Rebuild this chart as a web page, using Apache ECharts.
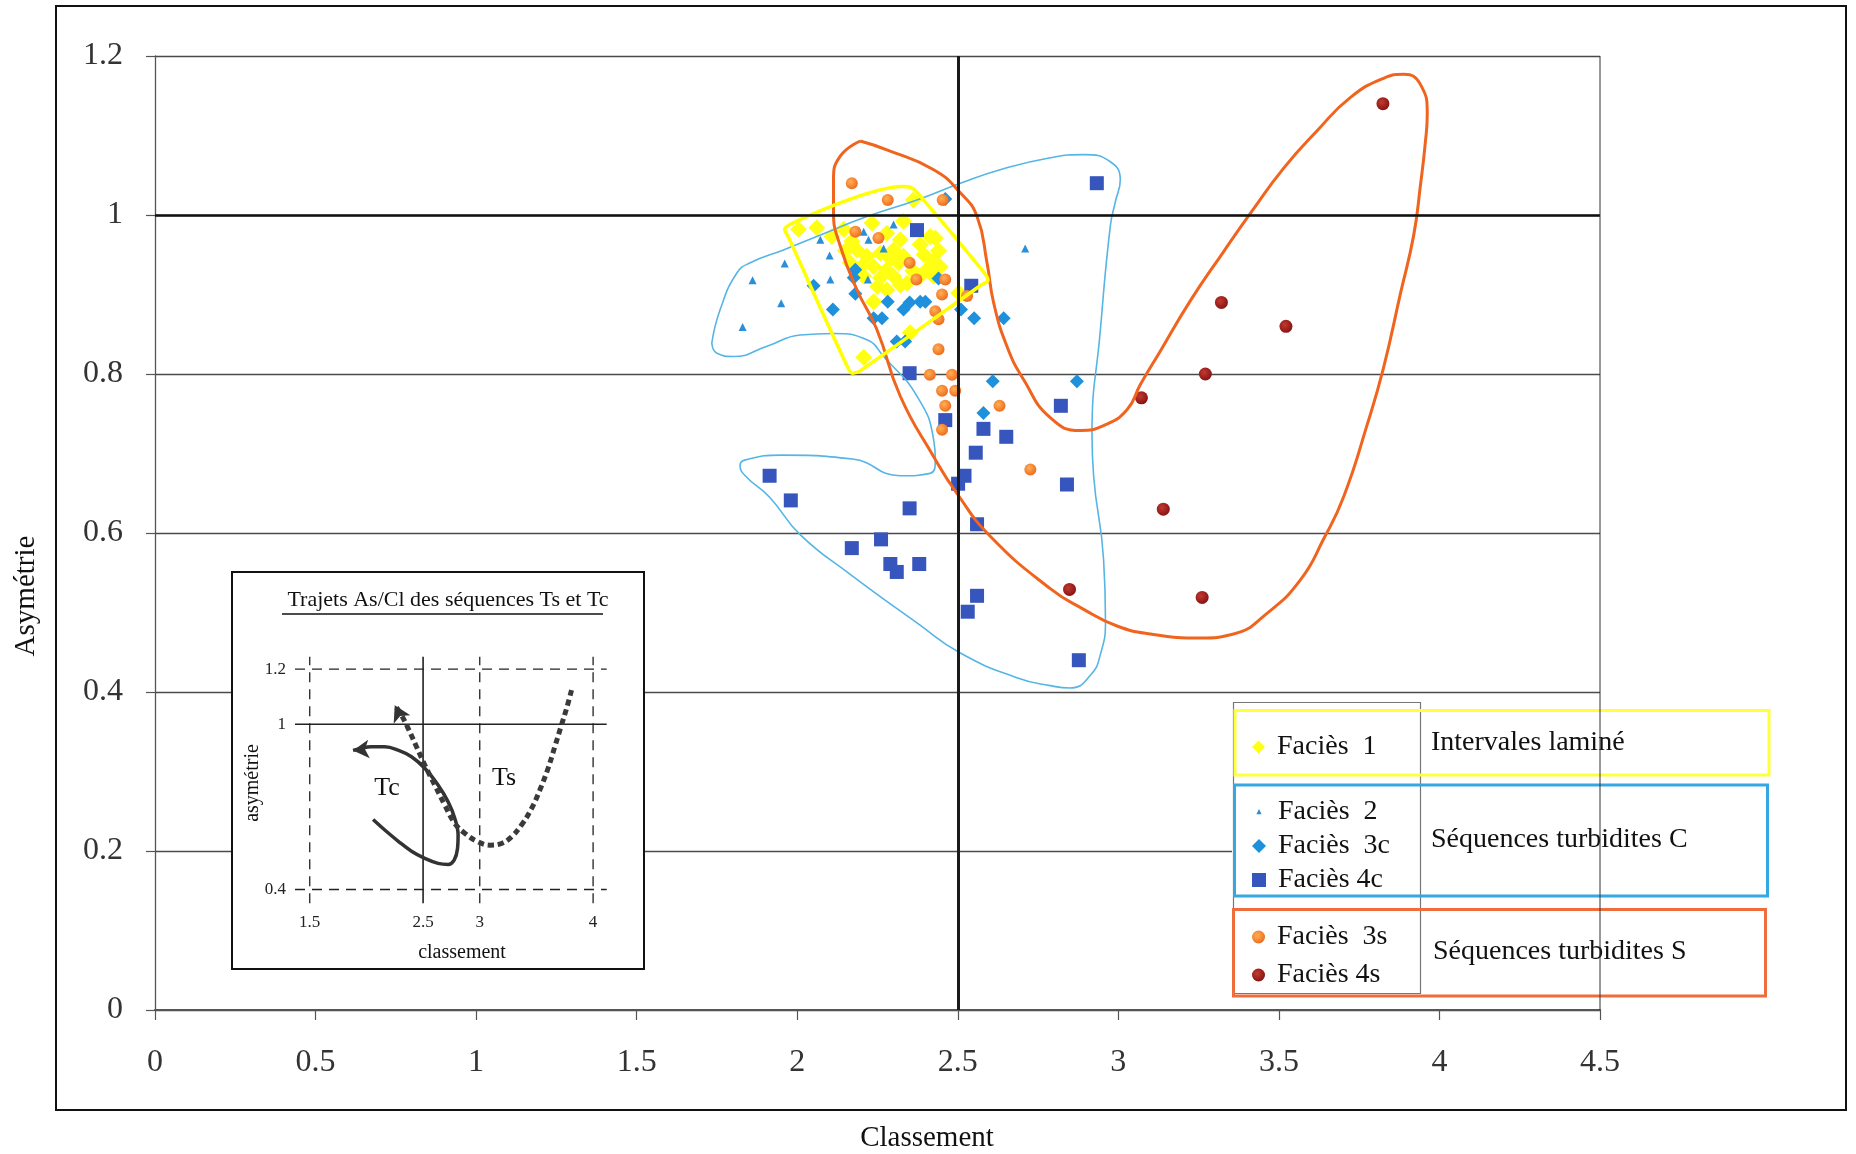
<!DOCTYPE html>
<html><head><meta charset="utf-8">
<script src="https://cdn.jsdelivr.net/npm/echarts@6/dist/echarts.min.js"></script>
<style>html,body{margin:0;padding:0;background:#fff}#chart{width:1856px;height:1154px}</style>
</head><body><div id="chart"></div><script>
// ---------- data (Classement, Asymétrie) ----------
const facies1 = [[2.362,1.019],[2.004,0.982],[2.061,0.984],[2.108,0.973],[2.145,0.982],[2.233,0.990],[2.331,0.992],[2.279,0.977],[2.321,0.969],[2.414,0.973],[2.430,0.971],[2.383,0.963],[2.186,0.956],[2.217,0.948],[2.259,0.952],[2.300,0.956],[2.331,0.948],[2.165,0.940],[2.238,0.935],[2.279,0.931],[2.316,0.940],[2.425,0.942],[2.445,0.935],[2.404,0.931],[2.207,0.923],[2.259,0.921],[2.300,0.923],[2.342,0.914],[2.383,0.923],[2.425,0.923],[2.279,0.906],[2.321,0.912],[2.238,0.891],[2.503,0.902],[2.352,0.852],[2.207,0.821],[2.170,0.967],[2.150,0.955],[2.200,0.935],[2.360,0.930],[2.395,0.950],[2.250,0.910],[2.290,0.945],[2.440,0.955]];
const facies2 = [[2.300,0.988],[2.207,0.979],[2.222,0.969],[2.269,0.958],[2.072,0.969],[2.101,0.949],[1.961,0.939],[1.861,0.918],[2.103,0.919],[2.220,0.919],[1.950,0.889],[1.830,0.859],[2.710,0.958]];
const facies3c = [[2.461,1.020],[2.051,0.911],[2.181,0.931],[2.176,0.921],[2.181,0.901],[2.111,0.881],[2.282,0.891],[2.238,0.870],[2.264,0.870],[2.331,0.881],[2.350,0.890],[2.383,0.891],[2.399,0.891],[2.310,0.841],[2.336,0.841],[2.440,0.920],[2.510,0.881],[2.551,0.870],[2.643,0.870],[2.609,0.791],[2.871,0.791],[2.580,0.751]];
const facies4c = [[2.373,0.981],[2.542,0.911],[2.933,1.040],[2.350,0.801],[2.461,0.742],[2.821,0.760],[2.580,0.731],[2.651,0.721],[2.556,0.701],[2.521,0.672],[2.501,0.662],[2.840,0.661],[2.350,0.631],[2.560,0.611],[2.261,0.592],[2.170,0.581],[2.290,0.561],[2.310,0.551],[2.380,0.561],[2.560,0.521],[2.531,0.501],[2.877,0.440],[1.914,0.672],[1.980,0.641]];
const facies3s = [[2.170,1.040],[2.282,1.019],[2.453,1.019],[2.181,0.979],[2.253,0.971],[2.350,0.940],[2.371,0.919],[2.461,0.919],[2.451,0.900],[2.529,0.898],[2.430,0.879],[2.440,0.869],[2.440,0.831],[2.413,0.799],[2.482,0.799],[2.451,0.779],[2.492,0.779],[2.461,0.760],[2.630,0.760],[2.451,0.730],[2.726,0.680]];
const facies4s = [[3.824,1.140],[3.321,0.890],[3.522,0.860],[3.271,0.800],[3.072,0.770],[3.140,0.630],[2.848,0.529],[3.261,0.519]];

const seriesNames = ['Faciès  1','Faciès  2','Faciès  3c','Faciès 4c','Faciès  3s','Faciès 4s'];
const groupLabels = ['Intervales laminé','Séquences turbidites C','Séquences turbidites S'];
const axisTitles = ['Classement','Asymétrie'];

// hand-drawn envelopes (data coordinates)
const outlineYellow = [[1.981,0.989],[2.328,1.036],[2.352,1.035],[2.372,1.029],[2.579,0.929],[2.594,0.918],[2.573,0.912],[2.196,0.804],[2.172,0.801],[2.153,0.812],[1.974,0.971],[1.961,0.982],[1.981,0.989]];
const outlineBlue = [[1.734,0.839],[1.760,0.881],[1.812,0.927],[1.854,0.940],[1.957,0.956],[2.061,0.973],[2.217,0.998],[2.373,1.019],[2.508,1.040],[2.632,1.057],[2.788,1.072],[2.892,1.076],[2.975,1.067],[3.006,1.044],[2.991,1.017],[2.975,0.986],[2.944,0.855],[2.918,0.724],[2.923,0.672],[2.954,0.567],[2.960,0.489],[2.944,0.447],[2.913,0.421],[2.850,0.405],[2.788,0.408],[2.684,0.418],[2.508,0.449],[2.373,0.487],[2.165,0.548],[2.009,0.598],[1.914,0.645],[1.838,0.672],[1.822,0.685],[1.838,0.692],[1.951,0.698],[2.172,0.693],[2.321,0.672],[2.414,0.675],[2.430,0.692],[2.425,0.717],[2.373,0.772],[2.269,0.822],[2.217,0.843],[2.113,0.851],[2.009,0.849],[1.906,0.835],[1.802,0.822],[1.750,0.826],[1.734,0.839]];
const outlineOrange = [[2.196,1.093],[2.279,1.082],[2.425,1.057],[2.508,1.028],[2.560,0.998],[2.591,0.940],[2.612,0.889],[2.653,0.835],[2.705,0.793],[2.788,0.745],[2.882,0.729],[2.954,0.735],[3.027,0.755],[3.069,0.787],[3.131,0.829],[3.224,0.892],[3.328,0.954],[3.411,1.002],[3.515,1.059],[3.619,1.106],[3.723,1.148],[3.826,1.172],[3.889,1.177],[3.941,1.164],[3.962,1.127],[3.956,1.091],[3.941,1.038],[3.920,0.975],[3.879,0.902],[3.826,0.808],[3.774,0.735],[3.702,0.646],[3.640,0.593],[3.567,0.541],[3.463,0.499],[3.359,0.473],[3.255,0.468],[3.100,0.473],[2.996,0.483],[2.892,0.504],[2.788,0.530],[2.601,0.596],[2.497,0.650],[2.425,0.696],[2.321,0.772],[2.248,0.856],[2.186,0.906],[2.134,0.961],[2.113,1.003],[2.113,1.044],[2.134,1.074],[2.196,1.093]];

// inset schematic
const insetXRange = [1.37, 4.12];
const insetYRange = [0.35, 1.245];
const insetXTicks = [1.5, 2.5, 3, 4];
const insetYTicks = [0.4, 1, 1.2];
const insetDashedX = [1.5, 3, 4];
const insetSolidX = [2.5];
const insetDashedY = [0.4, 1.2];
const insetSolidY = [1];
const insetTc = [[2.059,0.654],[2.162,0.616],[2.279,0.576],[2.398,0.539],[2.515,0.513],[2.632,0.495],[2.721,0.491],[2.774,0.507],[2.804,0.549],[2.809,0.597],[2.780,0.658],[2.721,0.718],[2.632,0.779],[2.515,0.840],[2.398,0.882],[2.279,0.906],[2.162,0.918],[2.045,0.918],[1.926,0.909],[1.882,0.905]];
const insetTs = [[3.810,1.124],[3.766,1.057],[3.721,0.997],[3.662,0.918],[3.603,0.840],[3.530,0.761],[3.457,0.694],[3.368,0.634],[3.280,0.591],[3.192,0.567],[3.089,0.561],[2.985,0.573],[2.868,0.604],[2.780,0.640],[2.692,0.706],[2.603,0.779],[2.515,0.852],[2.442,0.918],[2.368,0.985],[2.309,1.033],[2.250,1.069]];

// ---------- chart ----------
const FF = "'Liberation Serif', 'Times New Roman', serif";
const chart = echarts.init(document.getElementById('chart'), null, {renderer: 'canvas'});

function radial(c1, c2) {
  return {type: 'radial', x: 0.4, y: 0.38, r: 0.65, colorStops: [{offset: 0, color: c1}, {offset: 1, color: c2}]};
}
const styles = [
  {symbol: 'diamond', size: 17, color: '#ffff14'},
  {symbol: 'triangle', size: 8, color: '#2a8fd6'},
  {symbol: 'diamond', size: 14, color: '#1e90dc'},
  {symbol: 'rect', size: 14, color: '#3655bd'},
  {symbol: 'circle', size: 12, color: radial('#ffb055', '#ee6a1c')},
  {symbol: 'circle', size: 13, color: radial('#c23a30', '#861212')}
];
const datasets = [facies1, facies2, facies3c, facies4c, facies3s, facies4s];

const series = [];
datasets.forEach((d, i) => {
  const s = {
    type: 'scatter', name: seriesNames[i], xAxisIndex: 0, yAxisIndex: 0,
    data: d, symbol: styles[i].symbol, symbolSize: styles[i].size,
    itemStyle: {color: styles[i].color, opacity: 1}, z: 2, silent: true
  };
  if (i === 0) {
    s.markLine = {
      silent: true, symbol: ['none', 'none'], label: {show: false}, animation: false,
      data: [
        {xAxis: 2.5, lineStyle: {color: '#1a1a1a', width: 3, type: 'solid'}},
        {yAxis: 1, lineStyle: {color: '#111', width: 2.5, type: 'solid'}}
      ]
    };
  }
  series.push(s);
});

function outline(data, color, width, smooth) {
  return {type: 'line', data: data, xAxisIndex: 0, yAxisIndex: 0, symbol: 'none', smooth: smooth,
    lineStyle: {color: color, width: width}, z: 3, silent: true};
}
series.push(outline(outlineBlue, '#55b5e5', 1.6, 0.5));
series.push(outline(outlineOrange, '#f0641e', 3, 0.5));
series.push(outline(outlineYellow, '#ffff00', 3.5, 0.3));

// right border of the plot, visible across the legend box
series.push({type: 'line', data: [[4.5, 0], [4.5, 1.2]], xAxisIndex: 0, yAxisIndex: 0, symbol: 'none',
  lineStyle: {color: '#333', width: 1}, z: 6, silent: true});

// inset reference lines
insetDashedX.forEach(v => series.push({type: 'line', xAxisIndex: 1, yAxisIndex: 1, symbol: 'none', silent: true,
  data: [[v, insetYRange[0]], [v, insetYRange[1]]], lineStyle: {color: '#222', width: 1.3, type: [10, 7]}, z: 4}));
insetSolidX.forEach(v => series.push({type: 'line', xAxisIndex: 1, yAxisIndex: 1, symbol: 'none', silent: true,
  data: [[v, insetYRange[0]], [v, insetYRange[1]]], lineStyle: {color: '#222', width: 1.6}, z: 4}));
insetDashedY.forEach(v => series.push({type: 'line', xAxisIndex: 1, yAxisIndex: 1, symbol: 'none', silent: true,
  data: [[insetXRange[0], v], [insetXRange[1], v]], lineStyle: {color: '#222', width: 1.3, type: [10, 7]}, z: 4}));
insetSolidY.forEach(v => series.push({type: 'line', xAxisIndex: 1, yAxisIndex: 1, symbol: 'none', silent: true,
  data: [[insetXRange[0], v], [insetXRange[1], v]], lineStyle: {color: '#222', width: 1.6}, z: 4}));

function arrowPath(pts, rot) {
  return pts.map((p, i) => i === pts.length - 1
    ? {value: p, symbol: 'arrow', symbolSize: [14, 16], symbolRotate: rot}
    : {value: p, symbol: 'none'});
}
series.push({type: 'line', name: 'Tc', xAxisIndex: 1, yAxisIndex: 1, silent: true, symbol: 'none', showSymbol: true,
  smooth: 0.4, data: arrowPath(insetTc, 95), itemStyle: {color: '#333'},
  lineStyle: {color: '#333', width: 3.5}, z: 5});
series.push({type: 'line', name: 'Ts', xAxisIndex: 1, yAxisIndex: 1, silent: true, symbol: 'none', showSymbol: true,
  smooth: 0.4, data: arrowPath(insetTs, 27), itemStyle: {color: '#333'},
  lineStyle: {color: '#3a3a3a', width: 5, type: [6, 4]}, z: 5});

const legendText = {fontFamily: FF, fontSize: 28, color: '#111', lineHeight: 30, padding: [0, 0, 0, 7]};
const triIcon = 'path://M0,0 M24,24 M12,7 L16.5,16 L7.5,16 Z';
const centerText = (txt, x, y, font, rot) => ({type: 'text', x: x, y: y, rotation: rot || 0, z: 6, silent: true,
  style: {text: txt, font: font, fill: '#111', align: 'center', verticalAlign: 'middle', textAlign: 'center', textVerticalAlign: 'middle'}});
const leftText = (txt, x, y) => ({type: 'text', x: x, y: y, z: 5, silent: true,
  style: {text: txt, font: '28px ' + FF, fill: '#111', align: 'left', verticalAlign: 'middle', textAlign: 'left', textVerticalAlign: 'middle'}});

const option = {
  backgroundColor: '#fff',
  animation: false,
  textStyle: {fontFamily: FF},
  grid: [
    {left: 155, right: 256, top: 56, bottom: 144, show: false},
    {left: 295, top: 656.7, width: 311.7, height: 246.6, show: false}
  ],
  xAxis: [
    {type: 'value', gridIndex: 0, min: 0, max: 4.5, interval: 0.5,
      axisLine: {show: true, onZero: false, lineStyle: {color: '#555', width: 2}},
      axisTick: {show: true, length: 10, lineStyle: {color: '#555', width: 1.2}},
      axisLabel: {fontFamily: FF, fontSize: 32, color: '#333', margin: 37},
      splitLine: {show: false}},
    {type: 'value', gridIndex: 1, min: insetXRange[0], max: insetXRange[1], z: 4,
      axisLine: {show: false}, axisTick: {show: false}, splitLine: {show: false},
      axisLabel: {customValues: insetXTicks, fontFamily: FF, fontSize: 17, color: '#222', margin: 11,
        formatter: v => String(v)}}
  ],
  yAxis: [
    {type: 'value', gridIndex: 0, min: 0, max: 1.2, interval: 0.2,
      axisLine: {show: true, onZero: false, lineStyle: {color: '#555', width: 1.3}},
      axisTick: {show: true, length: 9, lineStyle: {color: '#555', width: 1.2}},
      axisLabel: {fontFamily: FF, fontSize: 32, color: '#333', margin: 32},
      splitLine: {show: true, lineStyle: {color: '#4a4a4a', width: 1.3}}},
    {type: 'value', gridIndex: 1, min: insetYRange[0], max: insetYRange[1], z: 4,
      axisLine: {show: false}, axisTick: {show: false}, splitLine: {show: false},
      axisLabel: {customValues: insetYTicks, fontFamily: FF, fontSize: 17, color: '#222', margin: 9,
        formatter: v => String(v)}}
  ],
  legend: [
    {data: [seriesNames[0]], orient: 'vertical', left: 1247, top: 727, itemWidth: 13, itemHeight: 13,
      itemGap: 4, selectedMode: false, textStyle: legendText, z: 5},
    {data: [{name: seriesNames[1], icon: triIcon}, seriesNames[2], seriesNames[3]], orient: 'vertical', left: 1247, top: 792,
      itemWidth: 14, itemHeight: 14, itemGap: 4, selectedMode: false, textStyle: legendText, z: 5},
    {data: [seriesNames[4], seriesNames[5]], orient: 'vertical', left: 1247, top: 917, itemWidth: 13, itemHeight: 13,
      itemGap: 8, selectedMode: false, textStyle: legendText, z: 5}
  ],
  graphic: [
    {type: 'rect', shape: {x: 56, y: 6, width: 1790, height: 1104}, style: {fill: 'none', stroke: '#111', lineWidth: 2}, z: 10, silent: true},
    // axis titles
    centerText(axisTitles[0], 927, 1138, '29px ' + FF),
    centerText(axisTitles[1], 26, 596, '29px ' + FF, Math.PI / 2),
    // inset frame
    {type: 'rect', shape: {x: 232, y: 572, width: 412, height: 397}, style: {fill: '#fff', stroke: '#111', lineWidth: 2}, z: 1, silent: true},
    centerText('Trajets As/Cl des séquences Ts et Tc', 448, 600, '22px ' + FF),
    {type: 'line', shape: {x1: 282, y1: 614, x2: 603, y2: 614}, style: {stroke: '#111', lineWidth: 1.3}, z: 6, silent: true},
    centerText('asymétrie', 253, 783, '20px ' + FF, Math.PI / 2),
    centerText('classement', 462, 953, '20px ' + FF),
    centerText('Tc', 387, 788, '26px ' + FF),
    centerText('Ts', 504, 778, '26px ' + FF),
    // legend table
    {type: 'rect', shape: {x: 1232, y: 702, width: 540, height: 297}, style: {fill: '#fff'}, z: 3, silent: true},
    {type: 'rect', shape: {x: 1233.5, y: 702.5, width: 187, height: 291}, style: {fill: 'none', stroke: '#777', lineWidth: 1.2}, z: 4, silent: true},
    {type: 'rect', shape: {x: 1235, y: 710.5, width: 534, height: 64.5}, style: {fill: 'none', stroke: '#ffff3a', lineWidth: 3}, z: 4, silent: true},
    {type: 'rect', shape: {x: 1234.5, y: 785, width: 533, height: 111}, style: {fill: 'none', stroke: '#35a8e2', lineWidth: 3}, z: 4, silent: true},
    {type: 'rect', shape: {x: 1233.5, y: 909.5, width: 532, height: 86.5}, style: {fill: 'none', stroke: '#ef6c3c', lineWidth: 3}, z: 4, silent: true},
    leftText(groupLabels[0], 1431, 743),
    leftText(groupLabels[1], 1431, 840),
    leftText(groupLabels[2], 1433, 952)
  ],
  series: series
};
chart.setOption(option);
</script></body></html>
